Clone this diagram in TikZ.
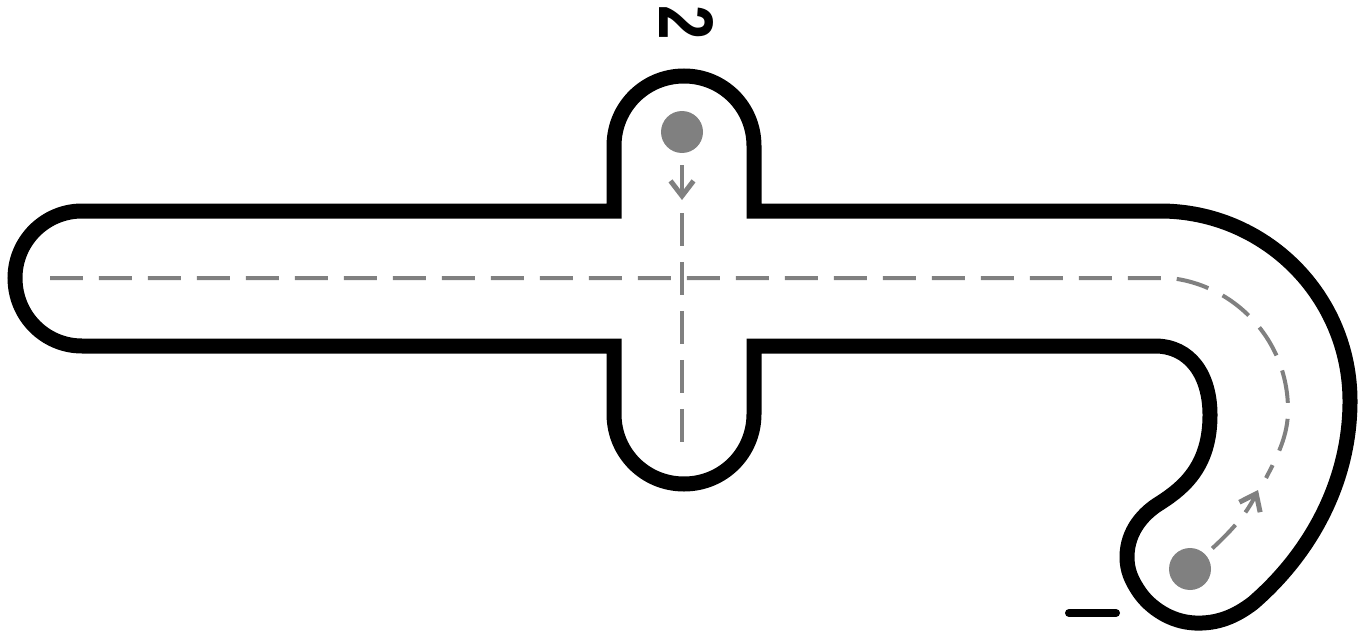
\documentclass[tikz,border=0pt]{standalone}
\usepackage{fontspec}
\usepackage{graphicx}
\setmainfont{Liberation Sans}
\usetikzlibrary{arrows.meta}
\tikzset{
  >={Straight Barb[length=0.3cm,width=0.46cm,line width=0.1cm]},
  wall/.style={line width=0.3cm,line join=miter,draw=black,fill=white},
  guide/.style={line width=0.08cm,draw=markgray,dash pattern=on 0.66cm off 0.32cm},
  marble/.style={circle,fill=markgray,inner sep=0pt,minimum size=0.84cm},
}
\definecolor{markgray}{HTML}{808080}
\begin{document}
\begin{tikzpicture}[x=0.02cm,y=-0.02cm]
  \useasboundingbox (0,0) rectangle (1368,635);

  % Channel outline
  \draw[wall] (82,211) -- (614,211) -- (614,146)
    .. controls (614,107) and (645,76) .. (684,76)
    .. controls (723,76) and (754,107) .. (754,146)
    -- (754,211) -- (1160,211)
    .. controls (1265,211) and (1350,296) .. (1350,401)
    .. controls (1350,480) and (1312,552) .. (1253,603)
    .. controls (1236,616) and (1218,624) .. (1195,623)
    .. controls (1170,622) and (1150,607) .. (1140,593)
    .. controls (1131,580) and (1127,570) .. (1127,557)
    .. controls (1127,530) and (1145,512) .. (1160,503)
    .. controls (1185,487) and (1210,465) .. (1210,415)
    .. controls (1210,375) and (1190,346) .. (1155,346)
    -- (754,346) -- (754,414)
    .. controls (754,453) and (723,484) .. (684,484)
    .. controls (645,484) and (614,453) .. (614,414)
    -- (614,346) -- (82,346)
    .. controls (45,346) and (15,316) .. (15,278)
    .. controls (15,241) and (45,211) .. (82,211) -- cycle;

  % Marbles and ends of the guides
  \node[marble] (dotTwo) at (682,132) {};
  \node[marble] (dotOne) at (1190,569) {};
  \coordinate (tipTwo) at (682,200);
  \coordinate (tipOne) at (1258,490);
  \coordinate (mainStart) at (50,278);
  \coordinate (bendStart) at (1170,278);
  \coordinate (bendEnd) at (1266,478);
  \coordinate (crossStart) at (682,213);
  \coordinate (crossEnd) at (682,443);

  % Dashed guides
  \draw[guide] (mainStart) -- (bendStart)
    .. controls (1235,285) and (1288,340) .. (1288,410)
    .. controls (1288,435) and (1278,455) .. (bendEnd);
  \draw[guide] (crossStart) -- (crossEnd);

  % Arrows
  \draw[guide,solid,->,shorten <=0.24cm] (dotTwo) -- (tipTwo);
  \draw[guide,->,shorten <=0.18cm] (dotOne) .. controls (1230,532) and (1246,515) .. (tipOne);

  % Labels
  \node[rotate=-90,font=\fontsize{44}{44}\selectfont\bfseries] (labelTwo) at (686,23) {\scalebox{0.8}[1]{2}};
  \coordinate (barLeft) at (1069,613);
  \coordinate (barRight) at (1116,613);
  \draw[line width=0.16cm,line cap=round] (barLeft) -- (barRight);
\end{tikzpicture}
\end{document}
